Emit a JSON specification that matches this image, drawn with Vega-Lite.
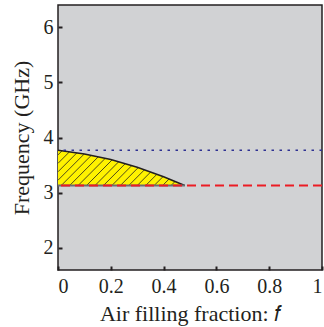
{
  "$schema": "https://vega.github.io/schema/vega-lite/v6.json",
  "width": 264,
  "height": 265,
  "autosize": "none",
  "padding": {"left": 58, "top": 5, "right": 2, "bottom": 57},
  "background": "white",
  "config": {
    "view": {"fill": "#d1d2d4", "stroke": "#231f20", "strokeWidth": 1.5},
    "font": "Liberation Serif",
    "axis": {
      "grid": false,
      "domain": false,
      "tickColor": "#231f20",
      "tickWidth": 2,
      "tickSize": -4,
      "labelFont": "Liberation Serif",
      "labelFontSize": 20,
      "labelColor": "#231f20",
      "titleFont": "Liberation Serif",
      "titleFontSize": 22,
      "titleFontWeight": "normal",
      "titleColor": "#231f20"
    }
  },
  "layer": [
    {
      "data": {"values": [
        {"f": 0, "freq": 3.77},
        {"f": 0.1, "freq": 3.70},
        {"f": 0.2, "freq": 3.60},
        {"f": 0.3, "freq": 3.46},
        {"f": 0.4, "freq": 3.29},
        {"f": 0.48, "freq": 3.13}
      ]},
      "mark": {"type": "area", "color": "#fff200", "opacity": 1},
      "encoding": {
        "x": {"field": "f", "type": "quantitative",
          "scale": {"domain": [0, 1], "nice": false, "zero": false},
          "axis": {"values": [0, 0.2, 0.4, 0.6, 0.8, 1], "format": "~g", "labelPadding": 10, "title": "Air filling fraction: 𝑓", "titlePadding": 7}},
        "y": {"field": "freq", "type": "quantitative",
          "scale": {"domain": [1.6, 6.4], "nice": false, "zero": false},
          "axis": {"values": [2, 3, 4, 5, 6], "format": "d", "labelPadding": 9, "title": "Frequency (GHz)", "titlePadding": 10}},
        "y2": {"datum": 3.13}
      }
    },
    {
      "data": {"values": [
        {"xa": 0.46, "ya": 3.13, "xb": 0.4659, "yb": 3.158},
        {"xa": 0.428, "ya": 3.13, "xb": 0.4433, "yb": 3.203},
        {"xa": 0.396, "ya": 3.13, "xb": 0.4207, "yb": 3.248},
        {"xa": 0.364, "ya": 3.13, "xb": 0.3981, "yb": 3.293},
        {"xa": 0.332, "ya": 3.13, "xb": 0.3745, "yb": 3.333},
        {"xa": 0.30, "ya": 3.13, "xb": 0.3508, "yb": 3.374},
        {"xa": 0.268, "ya": 3.13, "xb": 0.3272, "yb": 3.414},
        {"xa": 0.236, "ya": 3.13, "xb": 0.3036, "yb": 3.454},
        {"xa": 0.204, "ya": 3.13, "xb": 0.2790, "yb": 3.489},
        {"xa": 0.172, "ya": 3.13, "xb": 0.2543, "yb": 3.524},
        {"xa": 0.14, "ya": 3.13, "xb": 0.2295, "yb": 3.559},
        {"xa": 0.108, "ya": 3.13, "xb": 0.2047, "yb": 3.593},
        {"xa": 0.076, "ya": 3.13, "xb": 0.1786, "yb": 3.621},
        {"xa": 0.044, "ya": 3.13, "xb": 0.1521, "yb": 3.648},
        {"xa": 0.012, "ya": 3.13, "xb": 0.1256, "yb": 3.674},
        {"xa": 0, "ya": 3.226, "xb": 0.0991, "yb": 3.70},
        {"xa": 0, "ya": 3.379, "xb": 0.0712, "yb": 3.72},
        {"xa": 0, "ya": 3.532, "xb": 0.0433, "yb": 3.74},
        {"xa": 0, "ya": 3.686, "xb": 0.0154, "yb": 3.759}
      ]},
      "mark": {"type": "rule", "color": "#231f20", "strokeWidth": 0.8},
      "encoding": {
        "x": {"field": "xa", "type": "quantitative"},
        "y": {"field": "ya", "type": "quantitative"},
        "x2": {"field": "xb"},
        "y2": {"field": "yb"}
      }
    },
    {
      "data": {"values": [
        {"f": 0, "freq": 3.77},
        {"f": 0.1, "freq": 3.70},
        {"f": 0.2, "freq": 3.60},
        {"f": 0.3, "freq": 3.46},
        {"f": 0.4, "freq": 3.29},
        {"f": 0.48, "freq": 3.13}
      ]},
      "mark": {"type": "line", "color": "#231f20", "strokeWidth": 1.5},
      "encoding": {
        "x": {"field": "f", "type": "quantitative"},
        "y": {"field": "freq", "type": "quantitative"}
      }
    },
    {
      "data": {"values": [{"xa": 0, "xb": 0.48, "freq": 3.13}]},
      "mark": {"type": "rule", "color": "#6d6e71", "strokeWidth": 2},
      "encoding": {
        "x": {"field": "xa", "type": "quantitative"},
        "x2": {"field": "xb"},
        "y": {"field": "freq", "type": "quantitative"}
      }
    },
    {
      "data": {"values": [{"freq": 3.13}]},
      "mark": {"type": "rule", "color": "#ec1c24", "strokeWidth": 2, "strokeDash": [9, 5]},
      "encoding": {
        "y": {"field": "freq", "type": "quantitative"}
      }
    },
    {
      "data": {"values": [{"freq": 3.77}]},
      "mark": {"type": "rule", "color": "#2e3192", "strokeWidth": 1.5, "strokeDash": [2.5, 5.5]},
      "encoding": {
        "y": {"field": "freq", "type": "quantitative"}
      }
    }
  ]
}
